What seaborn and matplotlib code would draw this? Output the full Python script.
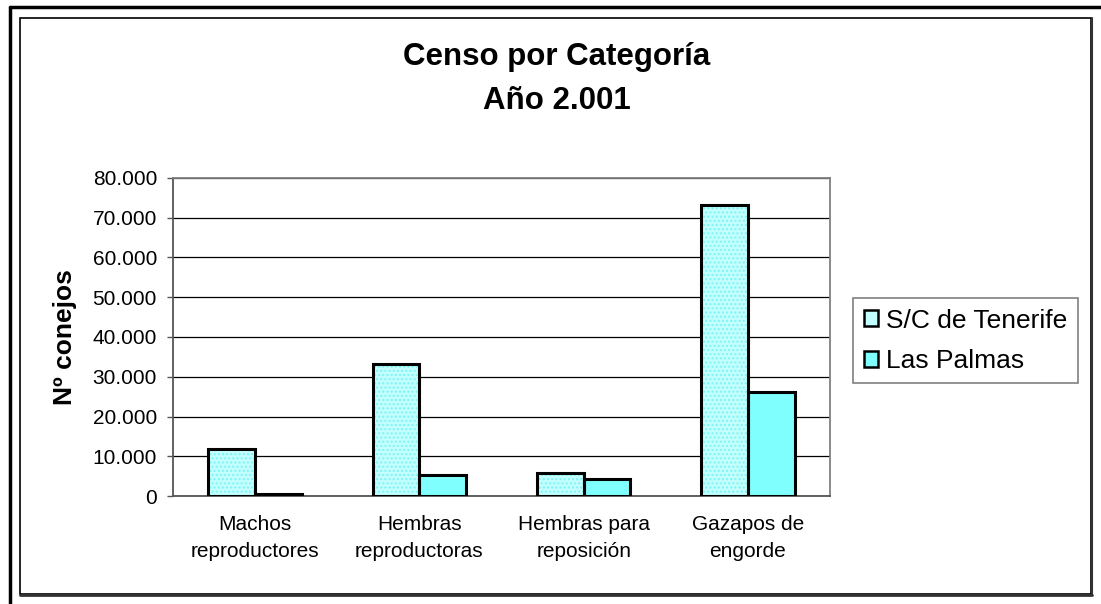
import matplotlib
matplotlib.use("Agg")
import matplotlib.pyplot as plt
import seaborn as sns
import pandas as pd
from matplotlib.patches import Patch, Rectangle
from matplotlib.lines import Line2D
from matplotlib.ticker import FixedLocator, FuncFormatter

# datos
categorias = ["Machos\nreproductores", "Hembras\nreproductoras",
              "Hembras para\nreposición", "Gazapos de\nengorde"]
tenerife = [11800, 33300, 5700, 73300]
las_palmas = [600, 5300, 4200, 26100]
provincias = ["S/C de Tenerife", "Las Palmas"]
colores = ["#C4FFFF", "#80FFFF"]

df = pd.DataFrame({
    "categoria": categorias * 2,
    "conejos": tenerife + las_palmas,
    "provincia": [provincias[0]] * 4 + [provincias[1]] * 4,
})

sns.set_theme(style="white")
plt.rcParams["font.family"] = ["Liberation Sans", "DejaVu Sans"]
plt.rcParams["hatch.linewidth"] = 1.0
plt.rcParams["text.color"] = "black"
plt.rcParams["axes.labelcolor"] = "black"

W, H = 1101, 604
fig = plt.figure(figsize=(W / 100, H / 100), dpi=100)
fig.patch.set_facecolor("white")
ax = fig.add_axes([173 / W, 1 - 496 / H, (830 - 173) / W, (496 - 178) / H])

sns.barplot(data=df, x="categoria", y="conejos", hue="provincia",
            palette=colores, width=0.57, gap=0, edgecolor="black",
            linewidth=2, saturation=1, legend=False, ax=ax, zorder=2)

# trama punteada en S/C de Tenerife y borde negro encima
for i, cont in enumerate(ax.containers):
    for p in cont.patches:
        x, y = p.get_xy()
        w, h = p.get_width(), p.get_height()
        if i == 0:
            p.set_hatch("....")
            p.set_edgecolor("#7CF4F4")
            p.set_linewidth(0)
        ax.add_patch(Rectangle((x, y), w, h, fill=False, edgecolor="black",
                               linewidth=2.2, zorder=3))

ax.set_xlim(-0.5, 3.5)
ax.set_ylim(0, 80000)
ax.yaxis.set_major_locator(FixedLocator(range(0, 80001, 10000)))
ax.yaxis.set_major_formatter(FuncFormatter(lambda v, _: f"{int(v):,}".replace(",", ".")))
ax.grid(axis="y", color="black", linewidth=0.9)
ax.set_axisbelow(True)

ax.xaxis.set_minor_locator(FixedLocator([-0.5, 0.5, 1.5, 2.5, 3.5]))
ax.tick_params(axis="x", which="major", length=0, pad=14, labelsize=15,
               labelcolor="black")
ax.tick_params(axis="x", which="minor", length=5, width=1, color="#555555", direction="out")
ax.tick_params(axis="y", length=4.5, width=1, color="#555555", direction="out",
               labelsize=15, pad=7, left=True, labelcolor="black")
for lab in ax.get_xticklabels():
    lab.set_linespacing(1.5)

for s in ax.spines.values():
    s.set_color("#808080")
    s.set_linewidth(1.3)
ax.spines["left"].set_color("#555555")
ax.spines["bottom"].set_color("#555555")

ax.set_xlabel("")
ax.set_ylabel("Nº conejos", fontsize=19, fontweight="bold")
ax.yaxis.set_label_coords((77 - 173) / (830 - 173), 0.5)

fig.text(557 / W, 1 - 57 / H, "Censo por Categoría", ha="center", va="center",
         fontsize=22.5, fontweight="bold")
fig.text(557 / W, 1 - 101 / H, "Año 2.001", ha="center", va="center",
         fontsize=22.5, fontweight="bold")

handles = [Patch(facecolor=c, edgecolor="black", linewidth=1.8) for c in colores]
leg = fig.legend(handles, provincias, loc="upper left",
                 bbox_to_anchor=(853 / W, 1 - 298 / H), borderaxespad=0,
                 fontsize=19, handlelength=0.55, handleheight=0.55,
                 handletextpad=0.3, borderpad=0.4, labelspacing=0.62,
                 fancybox=False, framealpha=1, edgecolor="#808080")
leg.get_frame().set_linewidth(1.2)

# marcos del area del grafico
fig.add_artist(Line2D([10 / W, 10 / W], [0, 1 - 7 / H], color="black", linewidth=2.5))
fig.add_artist(Line2D([10 / W, 1], [1 - 7 / H, 1 - 7 / H], color="black", linewidth=2.5))
fig.add_artist(Rectangle((20 / W, 1 - 594 / H), (1091 - 20) / W, (594 - 18) / H,
                         fill=False, edgecolor="black", linewidth=1.2))
fig.add_artist(Line2D([20 / W, 1092 / W], [1 - 595 / H, 1 - 595 / H], color="#333333", linewidth=2))
fig.add_artist(Line2D([1092 / W, 1092 / W], [1 - 595 / H, 1 - 18 / H], color="#333333", linewidth=1.5))

fig.savefig("out.png", dpi=100)
